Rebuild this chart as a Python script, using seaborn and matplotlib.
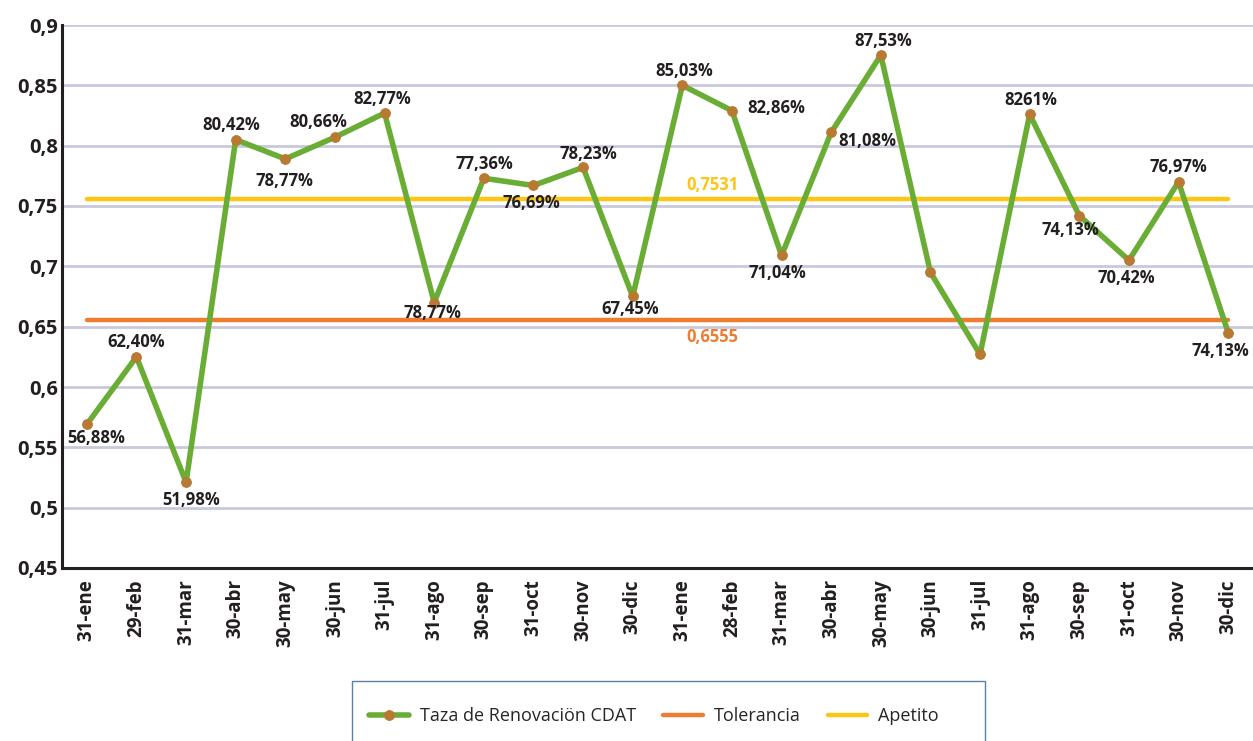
import matplotlib
matplotlib.use("Agg")
import matplotlib.pyplot as plt
from matplotlib.patches import Rectangle
from matplotlib.ticker import FixedLocator, FuncFormatter
import seaborn as sns
import pandas as pd
import numpy as np

# ---- data ----
categories = ["31-ene", "29-feb", "31-mar", "30-abr", "30-may", "30-jun", "31-jul",
              "31-ago", "30-sep", "31-oct", "30-nov", "30-dic",
              "31-ene", "28-feb", "31-mar", "30-abr", "30-may", "30-jun", "31-jul",
              "31-ago", "30-sep", "31-oct", "30-nov", "30-dic"]
renovacion = [0.569, 0.625, 0.521, 0.805, 0.789, 0.807, 0.827,
              0.670, 0.773, 0.767, 0.782, 0.675,
              0.850, 0.829, 0.709, 0.811, 0.875, 0.695, 0.627,
              0.826, 0.742, 0.705, 0.770, 0.645]
point_labels = ["56,88%", "62,40%", "51,98%", "80,42%", "78,77%", "80,66%", "82,77%",
                "78,77%", "77,36%", "76,69%", "78,23%", "67,45%",
                "85,03%", "82,86%", "71,04%", "81,08%", "87,53%", "", "",
                "8261%", "74,13%", "70,42%", "76,97%", "74,13%"]
tolerancia = 0.6555
apetito = 0.756
tolerancia_label = "0,6555"
apetito_label = "0,7531"
y_ticks = [0.45, 0.5, 0.55, 0.6, 0.65, 0.7, 0.75, 0.8, 0.85, 0.9]

# label offsets in pixels (dx, dy) relative to each point -- styling only
label_offsets = [(9, -14), (0, 15), (5, -18), (-4, 15), (-1, -22), (-17, 15), (-2, 14),
                 (-2, -10), (1, 14), (-2, -18), (5, 13), (-2, -13),
                 (2, 14), (44, 3), (-4, -18), (36, -9), (2, 14), (0, 0), (0, 0),
                 (1, 14), (-9, -14), (-3, -18), (0, 15), (-8, -18)]

green = "#6aad35"
brown = "#b87a32"
orange = "#ef7d31"
yellow = "#fcc614"
dark = "#231f20"
grid_c = "#c9c9dd"

sns.set_theme(style="white")
plt.rcParams["font.family"] = ["Open Sans", "DejaVu Sans"]

n = len(categories)
x = np.arange(n)
df = pd.DataFrame({"x": x, "renovacion": renovacion,
                   "tolerancia": [tolerancia] * n, "apetito": [apetito] * n})

fig = plt.figure(figsize=(12.53, 7.41), dpi=100)
ax = fig.add_axes([62 / 1253, 1 - 568 / 741, 1 - 62 / 1253, (568 - 25) / 741])

sns.lineplot(data=df, x="x", y="apetito", ax=ax, color=yellow, linewidth=3.2,
             label="Apetito", zorder=3)
sns.lineplot(data=df, x="x", y="tolerancia", ax=ax, color=orange, linewidth=3.2,
             label="Tolerancia", zorder=3)
sns.lineplot(data=df, x="x", y="renovacion", ax=ax, color=green, linewidth=4,
             marker="o", markersize=7, markerfacecolor=brown, markeredgecolor=brown,
             label="Taza de Renovaciön CDAT", zorder=4)

ax.set_xlim(-0.5, n - 0.5)
ax.set_ylim(0.45, 0.9)
ax.yaxis.set_major_locator(FixedLocator(y_ticks))
ax.yaxis.set_major_formatter(FuncFormatter(lambda v, p: ("%g" % round(v, 2)).replace(".", ",")))
ax.grid(axis="y", color=grid_c, linewidth=2, zorder=0)
ax.set_axisbelow(True)

ax.set_xticks(x)
ax.set_xticklabels(categories, rotation=90, fontsize=13.5, fontweight="bold", color=dark)
ax.set_xticks(np.arange(n + 1) - 0.5, minor=True)
ax.tick_params(axis="x", which="major", length=0, pad=8)
ax.tick_params(axis="x", which="minor", length=7, width=1.8, direction="in", color=dark)
ax.tick_params(axis="y", which="major", length=7, width=1.8, direction="in", color=dark,
               labelsize=14.5, pad=3)
for lab in ax.get_yticklabels():
    lab.set_fontweight("bold")
    lab.set_color(dark)

for s in ["top", "right"]:
    ax.spines[s].set_visible(False)
for s in ["left", "bottom"]:
    ax.spines[s].set_color(dark)
    ax.spines[s].set_linewidth(2.2)

ax.set_xlabel("")
ax.set_ylabel("")

for xi, yi, lab, (dx, dy) in zip(x, renovacion, point_labels, label_offsets):
    if lab:
        ax.annotate(lab, (xi, yi), xytext=(dx, dy), textcoords="offset pixels",
                    ha="center", va="center", fontsize=12, fontweight="bold",
                    color=dark, zorder=6, annotation_clip=False)

ax.annotate(apetito_label, (12.6, apetito), xytext=(0, 14), textcoords="offset pixels",
            ha="center", va="center", fontsize=12, fontweight="bold", color=yellow)
ax.annotate(tolerancia_label, (12.6, tolerancia), xytext=(0, -17), textcoords="offset pixels",
            ha="center", va="center", fontsize=12, fontweight="bold", color=orange)

# legend
handles, labels = ax.get_legend_handles_labels()
order = [labels.index("Taza de Renovaciön CDAT"), labels.index("Tolerancia"), labels.index("Apetito")]
ax.get_legend().remove()
fig.legend([handles[i] for i in order], [labels[i] for i in order],
           loc="center", bbox_to_anchor=(654 / 1253, 1 - 716 / 741), ncol=3,
           frameon=False, fontsize=13, handlelength=2.2, columnspacing=1.5,
           handletextpad=0.6)
fig.patches.append(Rectangle((352 / 1253, -0.02), (985 - 352) / 1253, 0.02 + 1 - 681 / 741,
                             transform=fig.transFigure, fill=False,
                             edgecolor="#5b7fa8", linewidth=1))

fig.savefig("out.png", dpi=100)
